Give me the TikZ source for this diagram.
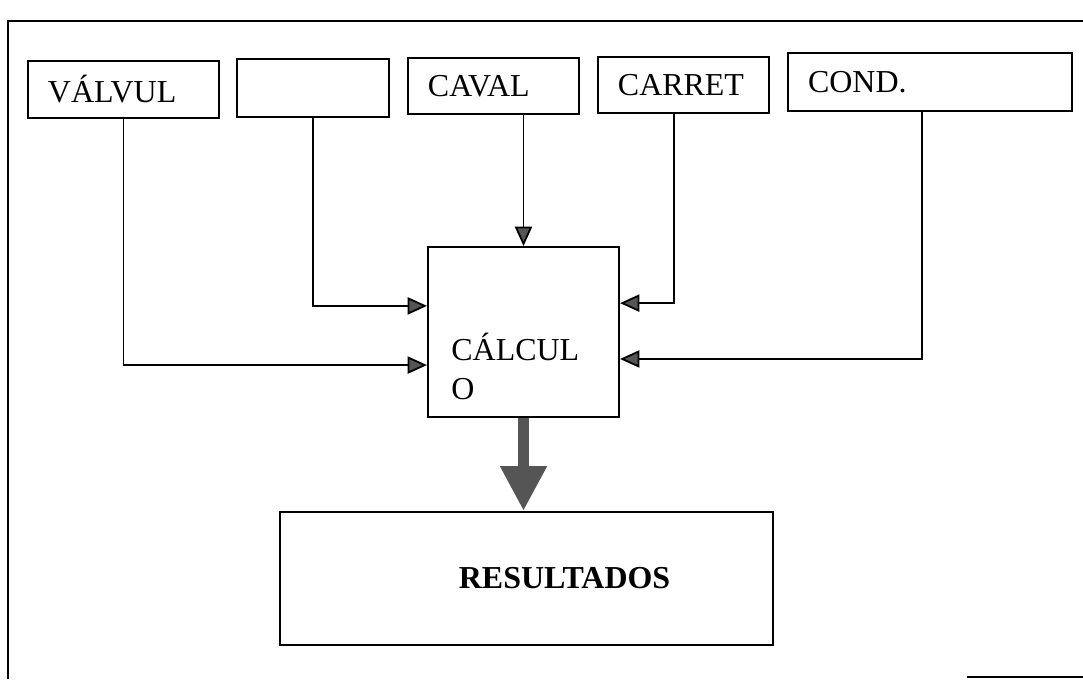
\documentclass[tikz,border=0pt]{standalone}
\usepackage{fontspec}
\setmainfont{Liberation Serif}
\usetikzlibrary{arrows.meta, positioning, calc}
\definecolor{tipgray}{HTML}{555555}

\begin{document}
\begin{tikzpicture}[x=0.36pt, y=-0.36pt,
    every node/.style={font=\fontsize{11.5}{14}\selectfont},
    caja/.style={draw, line width=0.7pt, inner xsep=7.2pt, inner ysep=0pt, align=left},
    flecha/.style={line width=0.65pt, -{Triangle[length=7pt, width=6.2pt, fill=tipgray]}},
    gorda/.style={line width=4.3pt, draw=tipgray, -{Triangle[length=16.2pt, width=15.8pt, fill=tipgray]}}]
  \useasboundingbox (0,0) rectangle (1083,679);

  % marco
  \draw[line width=0.8pt] (8,679) -- (8,21) -- (1083,21);
  \draw[line width=0.8pt] (967,677) -- (1083,677);

  % entradas
  \node[caja, text width=54.4pt, minimum height=20.5pt] (valvul) at (123.5,89.5) {VÁLVUL};
  \node[caja, text width=40.3pt, minimum height=20.9pt] (blanco) at (313,88) {};
  \node[caja, text width=47.2pt, minimum height=20.2pt] (caval) at (493.5,86) {CAVAL};
  \node[caja, text width=47.2pt, minimum height=20.2pt] (carret) at (683.5,85) {CARRET};
  \node[caja, text width=87.8pt, minimum height=20.9pt] (cond) at (930,82) {COND.};

  % calculo y resultados
  \node[draw, line width=0.7pt, inner sep=0pt, minimum width=68.8pt, minimum height=61.2pt,
        label={[align=left, anchor=north west, inner sep=0pt, xshift=8.6pt, yshift=-31pt]north west:CÁLCUL\\O}]
        (calculo) at (523.5,332) {};
  \node[draw, line width=0.7pt, inner sep=0pt, minimum width=177.5pt, minimum height=47.9pt,
        label={[font=\fontsize{11.5}{14}\selectfont\bfseries, xshift=13.7pt]center:RESULTADOS}]
        (resultados) at (526.5,578.5) {};

  \draw[flecha] (valvul.south) |- ([yshift=-11.9pt]calculo.west);
  \draw[flecha] (blanco.south) |- ([yshift=9.4pt]calculo.west);
  \draw[flecha] (caval.south -| calculo.north) -- (calculo.north);
  \draw[flecha] ([xshift=-3.4pt]carret.south) |- ([yshift=10.4pt]calculo.east);
  \draw[flecha] ([xshift=-2.9pt]cond.south) |- ([yshift=-9.7pt]calculo.east);
  \draw[gorda] (calculo.south) -- (calculo.south |- resultados.north);
\end{tikzpicture}
\end{document}
